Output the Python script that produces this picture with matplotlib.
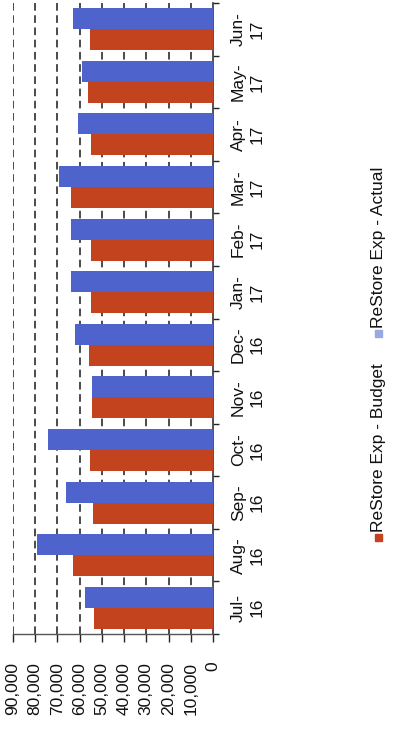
import matplotlib
matplotlib.use("Agg")
import matplotlib.pyplot as plt
import numpy as np
from matplotlib.patches import Rectangle

# Monthly ReStore expense: budget vs actual
months = ["Jul-\n16", "Aug-\n16", "Sep-\n16", "Oct-\n16", "Nov-\n16", "Dec-\n16",
          "Jan-\n17", "Feb-\n17", "Mar-\n17", "Apr-\n17", "May-\n17", "Jun-\n17"]
budget = [53600, 62800, 54000, 55300, 54400, 55800,
          55100, 55100, 63900, 55100, 56400, 55500]
actual = [57500, 79100, 66300, 74300, 54400, 62000,
          63900, 63900, 69200, 60800, 59000, 63000]
value_ticks = [0, 10000, 20000, 30000, 40000, 50000, 60000, 70000, 80000, 90000]
series_names = ["ReStore Exp - Budget", "ReStore Exp - Actual"]

RED = "#C2431D"
BLUE = "#4E64CC"
FONT = "Liberation Sans"

W, H = 409, 729
fig = plt.figure(figsize=(W / 100, H / 100), dpi=100)
fig.patch.set_facecolor("white")

# column chart laid on its side: values run right-to-left, months bottom-to-top
ax = fig.add_axes([13 / W, 1 - 634 / H, 200 / W, 631 / H])
ax.set_facecolor("white")

pos = np.arange(len(months))
bh = 0.40
ax.barh(pos - bh / 2, budget, height=bh, color=RED, zorder=3, linewidth=0)
ax.barh(pos + bh / 2, actual, height=bh, color=BLUE, zorder=3, linewidth=0)

ax.set_xlim(90000, 0)
ax.set_ylim(-0.5, len(months) - 0.5)

# value gridlines
for v in value_ticks[1:]:
    ax.axvline(v, color="#1a1a1a", lw=1.1, ls=(0, (5, 3)), zorder=1)

ax.set_xticks(value_ticks)
ax.set_xticklabels([f"{v:,}" for v in value_ticks], rotation=90,
                   fontsize=12.5, family=FONT, color="#111111")
ax.tick_params(axis="x", direction="out", length=6, width=1, pad=14, colors="#222222",
               labelcolor="#111111")

ax.yaxis.tick_right()
ax.set_yticks(pos)
ax.set_yticklabels(months, rotation=90, fontsize=12.5, family=FONT,
                   va="center", ha="left", multialignment="center", color="#111111",
                   linespacing=1.3)
ax.set_yticks(np.arange(-0.5, len(months), 1.0), minor=True)
ax.tick_params(axis="y", which="major", length=0, pad=13)
ax.tick_params(axis="y", which="minor", length=4, width=1, direction="out", colors="#222222")

for side in ["left", "top"]:
    ax.spines[side].set_visible(False)
ax.spines["right"].set_color("#333333")
ax.spines["right"].set_linewidth(1.2)
ax.spines["bottom"].set_color("#555555")
ax.spines["bottom"].set_linewidth(1.0)

# legend, set on its side to the right of the chart
legend_items = [(series_names[0], RED, 538), (series_names[1], "#9AAAE0", 334)]
for name, col, ypix in legend_items:
    fig.patches.append(Rectangle((375 / W, 1 - (ypix + 3) / H), 7 / W, 7 / H,
                                 transform=fig.transFigure, color=col))
    fig.text(378.5 / W, 1 - (ypix - 6) / H, name, rotation=90, ha="center", va="bottom",
             fontsize=12.5, family=FONT, color="#111111")

fig.savefig("out.png", dpi=100, facecolor="white")
